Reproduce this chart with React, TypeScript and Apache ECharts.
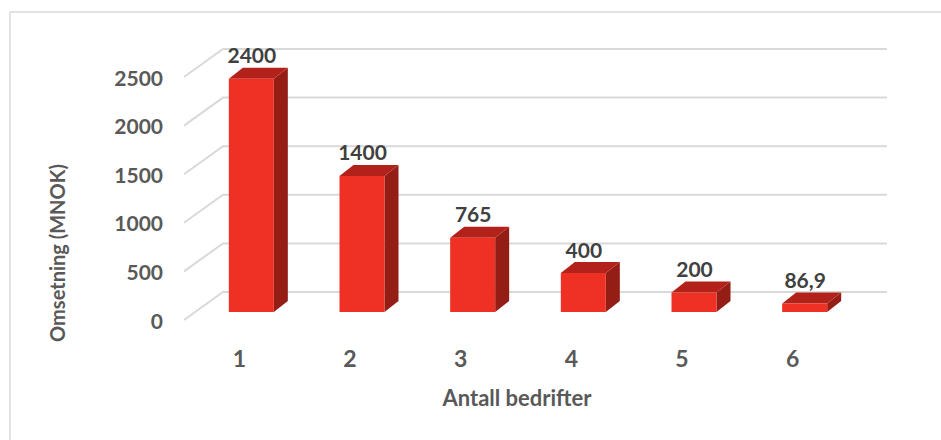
import React, { useEffect, useRef } from "react";
import * as echarts from "echarts";

const categories = ["1", "2", "3", "4", "5", "6"];
const values = [2400, 1400, 765, 400, 200, 86.9];
const yTicks = [0, 500, 1000, 1500, 2000, 2500];
const xTitle = "Antall bedrifter";
const yTitle = "Omsetning (MNOK)";

const FONT = "Lato, 'Open Sans', sans-serif";

export default function App() {
  const ref = useRef<HTMLDivElement>(null);
  useEffect(() => {
    if (!ref.current) return;
    const chart = echarts.init(ref.current, undefined, { renderer: "svg" });
    const BACK_DX = 39, BACK_DY = -28;
    const BAR_OX = 12, BAR_OY = -8, BAR_W = 45, DEPTH_X = 14, DEPTH_Y = -11;
    chart.setOption({
      animation: false,
      backgroundColor: "#fff",
      grid: { left: 184, right: 93, top: 77, bottom: 120 },
      xAxis: {
        type: "category",
        data: categories,
        axisLine: { show: false },
        axisTick: { show: false },
        axisLabel: {
          margin: 26,
          lineHeight: 24,
          fontFamily: FONT,
          fontWeight: "bold",
          fontSize: 23,
          color: "#595959",
        },
      },
      yAxis: {
        type: "value",
        min: 0,
        max: 2500,
        interval: 500,
        splitLine: { show: false },
        axisLine: { show: false },
        axisTick: { show: false },
        axisLabel: {
          margin: 21,
          formatter: (v: number) => String(v),
          fontFamily: FONT,
          fontWeight: "bold",
          fontSize: 21,
          color: "#595959",
        },
      },
      graphic: [
        {
          type: "rect",
          shape: { x: 10, y: 12, width: 980, height: 480 },
          style: { fill: "none", stroke: "#D9D9D9", lineWidth: 1.5 },
          silent: true,
        },
        {
          type: "text",
          x: 517,
          y: 397,
          style: {
            text: xTitle,
            align: "center",
            verticalAlign: "middle",
            fontFamily: FONT,
            fontWeight: "bold",
            fontSize: 22,
            fill: "#595959",
          },
        },
        {
          type: "text",
          x: 57,
          y: 253,
          rotation: Math.PI / 2,
          style: {
            text: yTitle,
            align: "center",
            verticalAlign: "middle",
            fontFamily: FONT,
            fontWeight: "bold",
            fontSize: 20,
            fill: "#595959",
          },
        },
      ],
      series: [
        {
          type: "custom",
          silent: true,
          z: 1,
          data: yTicks.map((v) => [0, v]),
          renderItem: (params: any, api: any) => {
            const cs = params.coordSys;
            const y = api.coord([0, api.value(1)])[1];
            const xl = cs.x;
            const xr = cs.x + cs.width;
            return {
              type: "polyline",
              shape: {
                points: [
                  [xl, y],
                  [xl + BACK_DX, y + BACK_DY],
                  [xr + BACK_DX, y + BACK_DY],
                ],
              },
              style: { stroke: "#D9D9D9", lineWidth: 2, fill: "none" },
            };
          },
        },
        {
          type: "custom",
          z: 2,
          data: values.map((v, i) => [i, v]),
          renderItem: (params: any, api: any) => {
            const i = api.value(0);
            const v = api.value(1);
            const p0 = api.coord([i, 0]);
            const p1 = api.coord([i, v]);
            const cx = p0[0] + BAR_OX;
            const xl = cx - BAR_W / 2;
            const xr = cx + BAR_W / 2;
            const yb = p0[1] + BAR_OY;
            const yt = p1[1] + BAR_OY;
            const label = String(v).replace(".", ",");
            return {
              type: "group",
              children: [
                {
                  type: "polygon",
                  shape: {
                    points: [
                      [xr, yt],
                      [xr + DEPTH_X, yt + DEPTH_Y],
                      [xr + DEPTH_X, yb + DEPTH_Y],
                      [xr, yb],
                    ],
                  },
                  style: { fill: "#941D15" },
                },
                {
                  type: "polygon",
                  shape: {
                    points: [
                      [xl, yt],
                      [xr, yt],
                      [xr + DEPTH_X, yt + DEPTH_Y],
                      [xl + DEPTH_X, yt + DEPTH_Y],
                    ],
                  },
                  style: { fill: "#B2221A" },
                },
                {
                  type: "rect",
                  shape: { x: xl, y: yt, width: BAR_W, height: yb - yt },
                  style: { fill: "#EE3124" },
                },
                {
                  type: "text",
                  x: cx + 0.5,
                  y: yt + DEPTH_Y - 13,
                  style: {
                    text: label,
                    align: "center",
                    verticalAlign: "middle",
                    fontFamily: FONT,
                    fontWeight: "bold",
                    fontSize: 21,
                    fill: "#404040",
                  },
                },
              ],
            };
          },
        },
      ],
    });
    return () => chart.dispose();
  }, []);
  return (
    <div
      ref={ref}
      style={{ position: "fixed", left: 0, top: 0, width: 941, height: 440 }}
    />
  );
}
